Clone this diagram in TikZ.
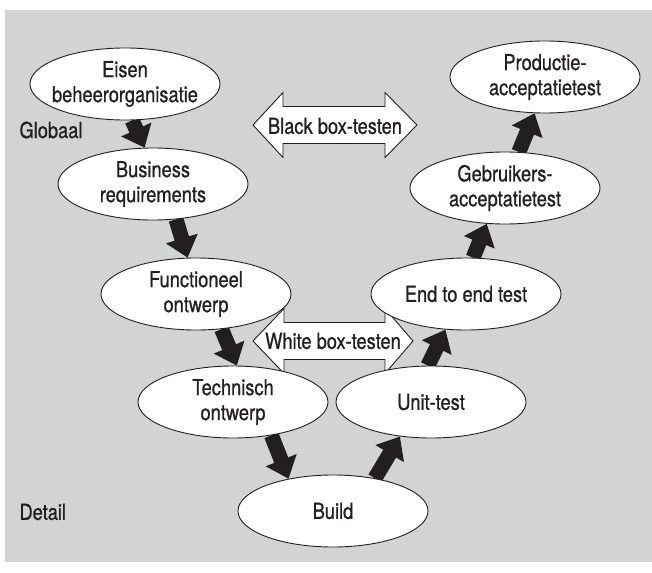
\documentclass[tikz,border=0pt]{standalone}
\usepackage{fontspec}
\setmainfont{TeX Gyre Heros}[FakeStretch=0.83,FakeBold=0.8]
\usepackage{xcolor}
\usepackage{tikz}
\usetikzlibrary{arrows.meta,shapes.geometric,backgrounds}
\definecolor{panelgray}{HTML}{D1D3D4}
\definecolor{ink}{HTML}{231F20}

\begin{document}
\begin{tikzpicture}[x=1pt,y=-1pt,
  every node/.style={font=\fontsize{22}{25}\selectfont,text=ink},
  phase/.style={ellipse,draw=ink,line width=0.9pt,fill=white,minimum width=190pt,
    minimum height=72pt,inner sep=-12pt,align=center},
  flow/.style={line width=15pt,draw=ink,-{Triangle[width=32pt,length=20pt]}},
  band/.style={draw=ink,line width=0.9pt,fill=white},
  lvl/.style={anchor=west}]
  \useasboundingbox (0,0) rectangle (652,572);
  \begin{scope}[on background layer]
    \fill[panelgray] (5,10) rectangle (652,562);
  \end{scope}

  \draw[band] (253,125) -- (283,92.5) -- (283,106.5) -- (385,106.5) -- (385,92.5)
    -- (417,125) -- (385,157.5) -- (385,143.5) -- (283,143.5) -- (283,157.5) -- cycle;
  \node (blackbox) at (335,126) {Black box-testen};
  \draw[band] (253,341) -- (284,308.5) -- (284,322.5) -- (385,322.5) -- (385,308.5)
    -- (413,341) -- (385,373.5) -- (385,359.5) -- (284,359.5) -- (284,373.5) -- cycle;
  \node (whitebox) at (333,341) {White box-testen};

  \node[phase] (eisen) at (125,84) {Eisen\\beheerorganisatie};
  \node[phase] (business) at (153,184) {Business\\requirements};
  \node[phase] (functioneel) at (196,294) {Functioneel\\ontwerp};
  \node[phase] (technisch) at (233,402) {Technisch\\ontwerp};
  \node[phase] (build) at (333,511) {Build};
  \node[phase] (unit) at (431,402) {Unit-test};
  \node[phase] (endtoend) at (466,294) {End to end test};
  \node[phase] (gebruikers) at (505,188) {Gebruikers-\\acceptatietest};
  \node[phase] (productie) at (545,77) {Productie-\\acceptatietest};

  \node[lvl] (globaal) at (16,130) {Globaal};
  \node[lvl] (detail) at (16,512) {Detail};

  \begin{scope}[on background layer]
    \draw[flow] (eisen.-79) -- (business.103);
    \draw[flow] (business.-57) -- (functioneel.103);
    \draw[flow] (functioneel.-54) -- (technisch.84);
    \draw[flow] (technisch.-41) -- (build.144);
    \draw[flow] (build.38) -- (unit.-132);
    \draw[flow] (unit.95) -- (endtoend.-120);
    \draw[flow] (endtoend.79) -- (gebruikers.-117);
    \draw[flow] (gebruikers.69) -- (productie.-106);
  \end{scope}
\end{tikzpicture}
\end{document}
